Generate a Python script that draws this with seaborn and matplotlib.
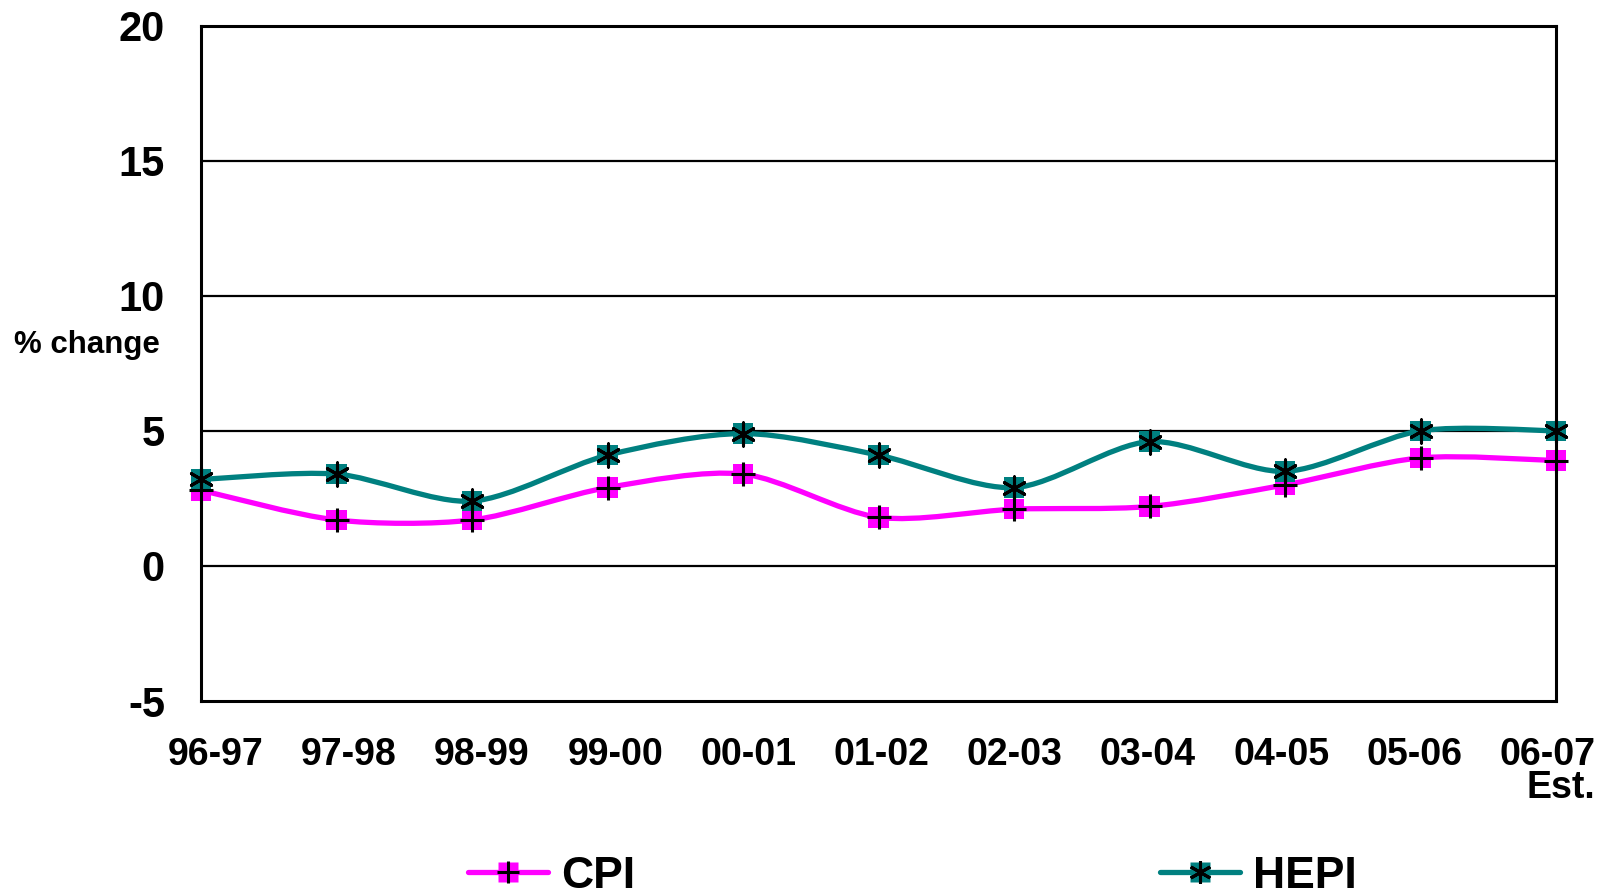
import numpy as np
import matplotlib
matplotlib.use("Agg")
import matplotlib.pyplot as plt
from matplotlib.path import Path
from matplotlib.patches import PathPatch
from matplotlib.lines import Line2D
from matplotlib.transforms import ScaledTranslation
import seaborn as sns

# data
years = ["96-97", "97-98", "98-99", "99-00", "00-01", "01-02",
         "02-03", "03-04", "04-05", "05-06", "06-07\nEst."]
cpi = [2.8, 1.7, 1.7, 2.9, 3.4, 1.8, 2.1, 2.2, 3.0, 4.0, 3.9]
hepi = [3.2, 3.4, 2.4, 4.1, 4.9, 4.1, 2.9, 4.6, 3.5, 5.0, 5.0]
y_ticks = [-5, 0, 5, 10, 15, 20]

CPI_COL = "#ff00ff"
HEPI_COL = "#008080"

sns.set_theme(style="white")
plt.rcParams['font.family'] = ['Liberation Sans', 'DejaVu Sans']
plt.rcParams['font.weight'] = 'bold'
plt.rcParams['text.color'] = 'black'
plt.rcParams['xtick.color'] = 'black'
plt.rcParams['ytick.color'] = 'black'


def smooth_path(xs, ys, k=7.0):
    # excel-style smoothed line: bezier segments through every point
    pts = np.column_stack([xs, ys]).astype(float)
    n = len(pts)
    verts = [pts[0]]
    codes = [Path.MOVETO]
    for i in range(n - 1):
        p0 = pts[max(i - 1, 0)]
        p1 = pts[i]
        p2 = pts[i + 1]
        p3 = pts[min(i + 2, n - 1)]
        verts += [p1 + (p2 - p0) / k, p2 - (p3 - p1) / k, p2]
        codes += [Path.CURVE4] * 3
    return Path(verts, codes)


fig = plt.figure(figsize=(16.02, 8.96), dpi=100)
ax = fig.add_axes([0.1255, 0.2176, 0.9713 - 0.1255, 0.9715 - 0.2176])

x = np.arange(len(years))

for vals, col in [(cpi, CPI_COL), (hepi, HEPI_COL)]:
    ax.add_patch(PathPatch(smooth_path(x, vals), facecolor="none",
                           edgecolor=col, lw=3.8, zorder=3, clip_on=False))

sns.scatterplot(x=x, y=cpi, marker="s", s=220, color=CPI_COL,
                edgecolor="none", zorder=4, ax=ax, clip_on=False)
sns.scatterplot(x=x, y=cpi, marker="+", s=280, color="black",
                linewidth=2.2, zorder=5, ax=ax, clip_on=False)
sns.scatterplot(x=x, y=hepi, marker="s", s=220, color=HEPI_COL,
                edgecolor="none", zorder=4, ax=ax, clip_on=False)
sns.scatterplot(x=x, y=hepi, marker=(6, 2, 0), s=280, color="black",
                linewidth=2.2, zorder=5, ax=ax, clip_on=False)

ax.set_xlim(0, len(years) - 1)
ax.set_ylim(-5, 20)
ax.set_yticks(y_ticks)
ax.set_yticklabels([str(v) for v in y_ticks], fontsize=30, fontweight="bold")
ax.set_xticks(x)
ax.set_xticklabels(years, fontsize=27, fontweight="bold",
                   multialignment="right", linespacing=0.9)
ax.tick_params(axis="y", length=0, pad=26)
ax.tick_params(axis="x", length=0, pad=26)

# category labels are spread a little narrower than the ticks
n = len(years)
for i, lbl in enumerate(ax.get_xticklabels()):
    dx = 14.5 - 23.0 * i / (n - 1)
    lbl.set_transform(lbl.get_transform()
                      + ScaledTranslation(dx / 100, 0, fig.dpi_scale_trans))

for v in y_ticks[1:-1]:
    ax.axhline(v, color="black", lw=1.6, zorder=1)
for s in ax.spines.values():
    s.set_color("black")
    s.set_linewidth(2.2)

ax.text(-0.084, 0.527, "% change", transform=ax.transAxes, ha="center",
        va="center", fontsize=22.5, fontweight="bold")

h_cpi = (Line2D([], [], color=CPI_COL, lw=3.8, marker="s", markersize=15,
                markeredgecolor="none"),
         Line2D([], [], color="black", lw=0, marker="+", markersize=16,
                markeredgewidth=2.2))
h_hepi = (Line2D([], [], color=HEPI_COL, lw=3.8, marker="s", markersize=15,
                 markeredgecolor="none"),
          Line2D([], [], color="black", lw=0, marker=(6, 2, 0), markersize=16,
                 markeredgewidth=2.2))
fig.legend([h_cpi, h_hepi], ["CPI", "HEPI"], loc="center",
           bbox_to_anchor=(0.5695, 0.022), ncol=2, frameon=False,
           prop={"size": 32, "weight": "bold"}, handlelength=1.8,
           handletextpad=0.3, columnspacing=11.8)

fig.savefig("out.png", dpi=100)
